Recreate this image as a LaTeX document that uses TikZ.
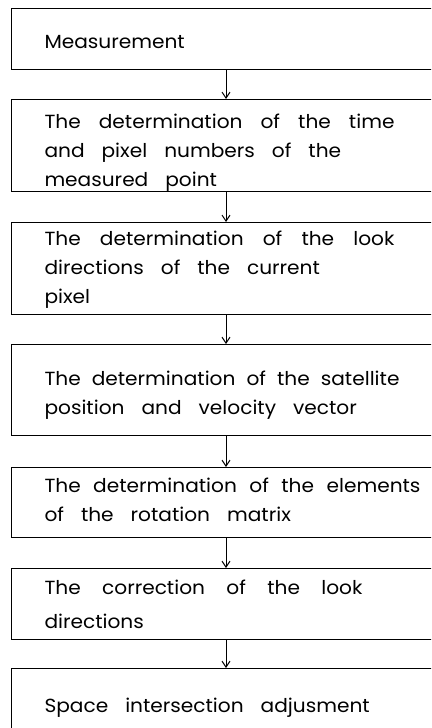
\documentclass[tikz,border=0pt]{standalone}
\usepackage{fontspec}
\setmainfont{Poppins}[FakeStretch=1.06]
\usetikzlibrary{arrows.meta}
\newcommand\stepfont[1]{\fontsize{19}{#1}\selectfont}
\newcommand\spreadline[2]{\hbox to #1{#2}}

\begin{document}
\begin{tikzpicture}[x=1pt,y=-1pt]
\tikzset{
  stepbox/.style 2 args={draw=black,line width=1pt,anchor=north west,
    inner xsep=33pt,inner ysep=0pt,text width=390pt,align=left,
    text height=#1,text depth=#2,font=\stepfont{29},
    execute at begin node={\spaceskip=17pt plus 8pt minus 9pt\xspaceskip=\spaceskip}},
  flowarrow/.style={draw=black,line width=1pt,-{Straight Barb[length=6pt,width=8pt]}}
}
\useasboundingbox (0,0) rectangle (431,728);
\clip (0,0) rectangle (431,728);
\coordinate (n_col) at (226,0);
\node[stepbox={40pt}{21pt}] (n_meas) at (11,8) {Measurement};
\node[stepbox={29pt}{63pt}] (n_time) at (11,99) {\spreadline{350pt}{The determination of the time}\\and pixel numbers of the\\measured point};
\node[stepbox={23pt}{69pt}] (n_look) at (11,222) {\spreadline{350pt}{The determination of the look}\\directions of the current\\pixel};
\node[stepbox={41pt}{50pt}] (n_sat) at (11,344) {\spreadline{355pt}{The determination of the satellite}\\position and velocity vector};
\node[stepbox={25pt}{45pt}] (n_rot) at (11,467) {\spreadline{376pt}{The determination of the elements}\\of the rotation matrix};
\node[stepbox={26pt}{45pt},font=\stepfont{34}] (n_corr) at (11,568) {\spreadline{318pt}{The correction of the look}\\directions};
\node[stepbox={44pt}{28pt}] (n_space) at (11,668) {Space intersection adjusment};
\draw[flowarrow] (n_meas.south -| n_col) -- (n_time.north -| n_col);
\draw[flowarrow] (n_time.south -| n_col) -- (n_look.north -| n_col);
\draw[flowarrow] (n_look.south -| n_col) -- (n_sat.north -| n_col);
\draw[flowarrow] (n_sat.south -| n_col) -- (n_rot.north -| n_col);
\draw[flowarrow] (n_rot.south -| n_col) -- (n_corr.north -| n_col);
\draw[flowarrow] (n_corr.south -| n_col) -- (n_space.north -| n_col);
\end{tikzpicture}
\end{document}
